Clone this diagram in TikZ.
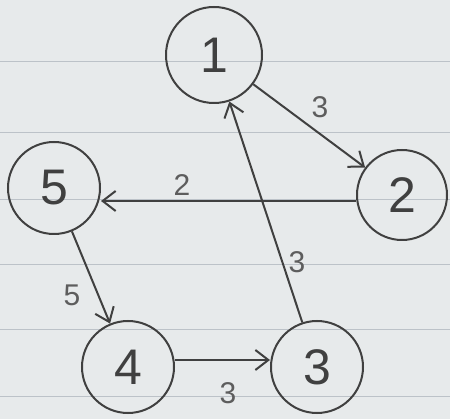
\documentclass[tikz,border=0pt]{standalone}
\usepackage{fontspec}
\setmainfont{Liberation Sans}
\usetikzlibrary{arrows.meta}
\definecolor{paper}{HTML}{E7EAEB}
\definecolor{rule}{HTML}{BCC2C8}
\definecolor{ink}{HTML}{404040}
\tikzset{
  vert/.style={circle, draw=ink, line width=2pt, minimum size=92pt, inner sep=0pt,
    font=\fontsize{50}{50}\selectfont, text=ink},
  edge/.style={draw=ink, line width=2pt, -{Straight Barb[length=13pt,width=20pt,line width=2pt]}},
  wlabel/.style={font=\fontsize{30}{30}\selectfont, text=ink!85},
  paperline/.style={draw=rule, line width=1pt}
}
\begin{document}
\begin{tikzpicture}[x=1pt,y=-1pt]
\fill[paper] (0,0) rectangle (450,419);
\useasboundingbox (0,0) rectangle (450,419);
\foreach \yy in {62,133,200,265,330,397} {
  \draw[paperline] (0,\yy) -- (450,\yy);
}
\node[vert, minimum size=96pt] (n1) at (214,55) {1};
\node[vert, minimum size=90pt] (n2) at (402,195) {2};
\node[vert] (n5) at (54,188) {5};
\node[vert] (n4) at (128,367) {4};
\node[vert] (n3) at (317,367) {3};
\draw[edge] (n1) -- (n2);
\draw[edge] (n2.west |- 0,201) -- (n5.east |- 0,201);
\draw[edge] (n3) -- (n1);
\draw[edge] (n5) -- (n4);
\draw[edge] (n4.east |- 0,360) -- (n3.west |- 0,360);
\node[wlabel] (l12) at (320,107) {3};
\node[wlabel] (l25) at (182,185) {2};
\node[wlabel] (l31) at (297,262) {3};
\node[wlabel] (l54) at (72,295) {5};
\node[wlabel] (l43) at (228,393) {3};
\end{tikzpicture}
\end{document}
